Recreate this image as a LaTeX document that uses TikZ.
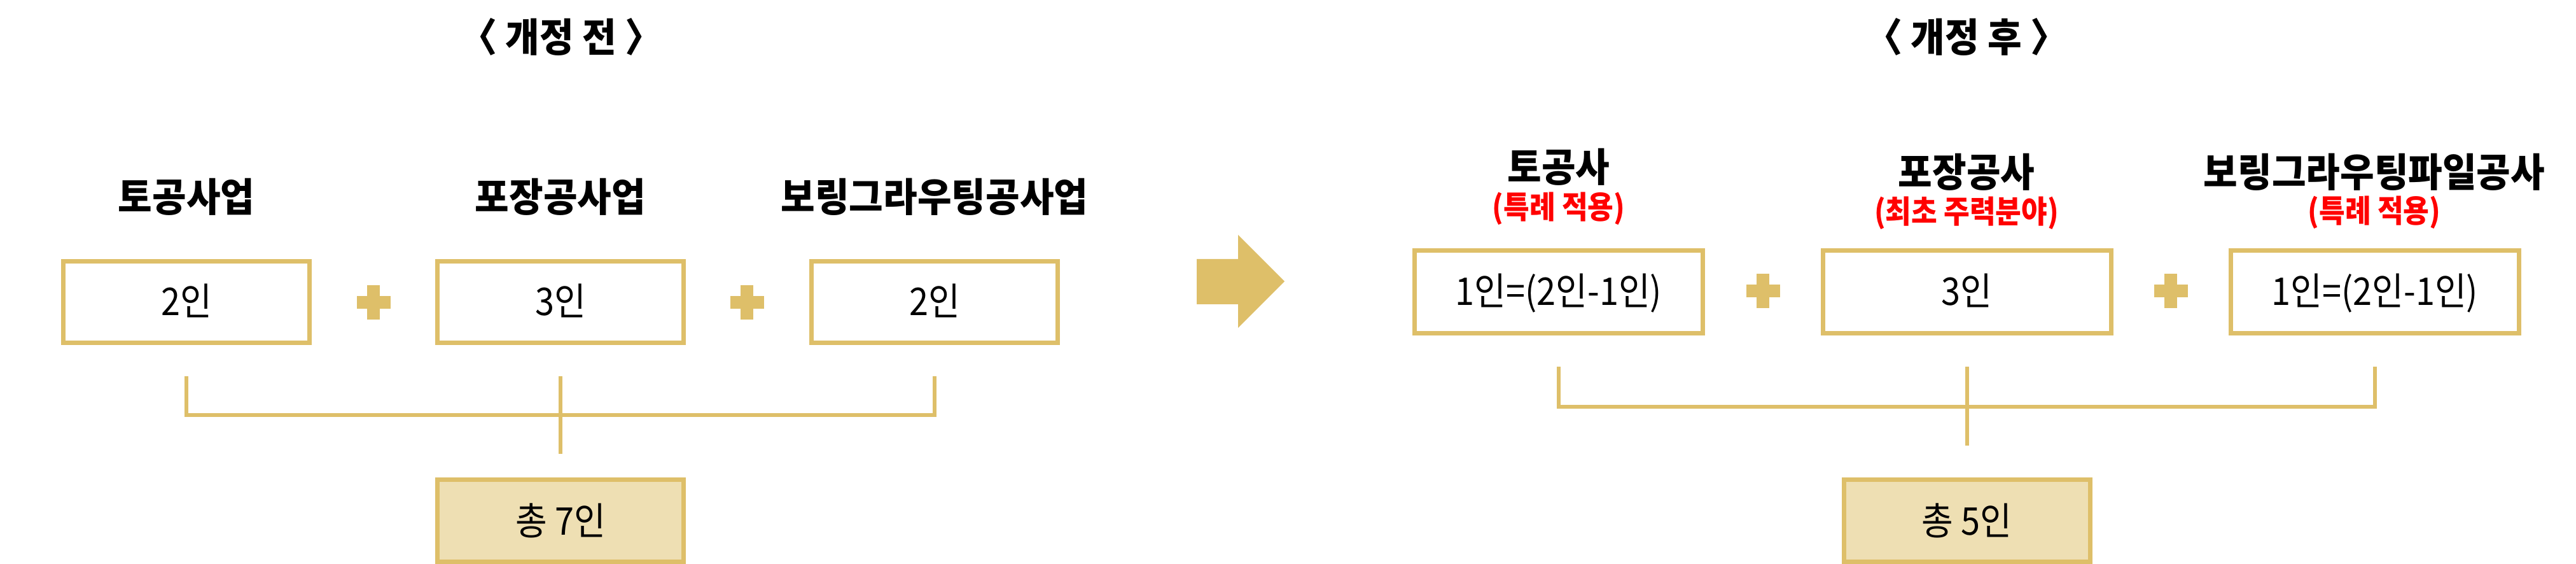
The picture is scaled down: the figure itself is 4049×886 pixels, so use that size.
\documentclass[tikz,border=0pt]{standalone}
\usepackage{fontspec}
\setmainfont{Noto Sans CJK KR}[FakeStretch=0.9]
\newfontfamily\headfont{Noto Sans CJK KR}[FakeStretch=0.94]
\usetikzlibrary{calc}
\definecolor{gold}{HTML}{DEBF69}
\definecolor{goldfill}{HTML}{EEDFB3}
\definecolor{redtxt}{HTML}{FF0000}
\begin{document}
\begin{tikzpicture}[x=0.25bp,y=-0.25bp,
  boxbase/.style={draw=gold, line width=1.75bp, inner sep=0pt,
    font=\fontsize{15bp}{18bp}\selectfont, text height=10.75bp, text depth=0pt},
  lbox/.style={boxbase, minimum width=96.75bp, minimum height=32bp},
  rbox/.style={boxbase, minimum width=113.25bp, minimum height=32.5bp},
  tbox/.style={boxbase, fill=goldfill, minimum width=96.75bp, minimum height=32.4bp, text height=11.5bp},
  head/.style={anchor=base, inner sep=0pt, font=\headfont\fontsize{15.5bp}{18bp}\selectfont\bfseries},
  title/.style={anchor=base, inner sep=0pt, font=\headfont\fontsize{15.5bp}{18bp}\selectfont\bfseries},
  sub/.style={anchor=base, inner sep=0pt, text=redtxt, font=\fontsize{12.3bp}{15bp}\selectfont\bfseries},
  conn/.style={draw=gold, line width=1.5bp},
  plusmark/.pic={\fill[gold] (-26.5,-10) rectangle (26.5,10); \fill[gold] (-10,-27) rectangle (10,27);}
]
\useasboundingbox (0,0) rectangle (4049,886);

% ---------- before ----------
\node[title] (tl) at (882,82) {〈 개정 전 〉};
\node[head] (h1) at (293,333) {토공사업};
\node[head] (h2) at (881,333) {포장공사업};
\node[head] (h3) at (1469,333) {보링그라우팅공사업};
\node[lbox] (b1) at (293,474.5) {2인};
\node[lbox] (b2) at (881,474.5) {3인};
\node[lbox] (b3) at (1469,474.5) {2인};
\pic at (587,475) {plusmark};
\pic at (1174,475) {plusmark};
\node[tbox] (t1) at (881,818) {총 7인};
\draw[conn] ($(b1.south)+(0,49.5)$) |- ($(b2.south)+(0,110.5)$) -| ($(b3.south)+(0,49.5)$);
\draw[conn] ($(b2.south)+(0,49.5)$) -- ($(t1.north)+(0,-37)$);

% ---------- arrow ----------
\fill[gold] (1881,407) -- (1946,407) -- (1946,369) -- (2019,442) -- (1946,515) -- (1946,478) -- (1881,478) -- cycle;

% ---------- after ----------
\node[title] (tr) at (3091,82) {〈 개정 후 〉};
\node[head] (g1) at (2450,286) {토공사};
\node[head] (g2) at (3091,294) {포장공사};
\node[head] (g3) at (3732,294) {보링그라우팅파일공사};
\node[sub] (s1) at (2450,344) {(특례 적용)};
\node[sub] (s2) at (3091,351) {(최초 주력분야)};
\node[sub] (s3) at (3732,350) {(특례 적용)};
\node[rbox] (c1) at (2450,458.5) {1인=(2인-1인)};
\node[rbox] (c2) at (3091.5,458.5) {3인};
\node[rbox] (c3) at (3733,458.5) {1인=(2인-1인)};
\pic at (2771,457) {plusmark};
\pic at (3412,457) {plusmark};
\node[tbox] (t2) at (3091.5,818) {총 5인};
\draw[conn] ($(c1.south)+(0,49.5)$) |- ($(c2.south)+(0,112.5)$) -| ($(c3.south)+(0,49.5)$);
\draw[conn] ($(c2.south)+(0,49.5)$) -- ($(t2.north)+(0,-50)$);
\end{tikzpicture}
\end{document}
